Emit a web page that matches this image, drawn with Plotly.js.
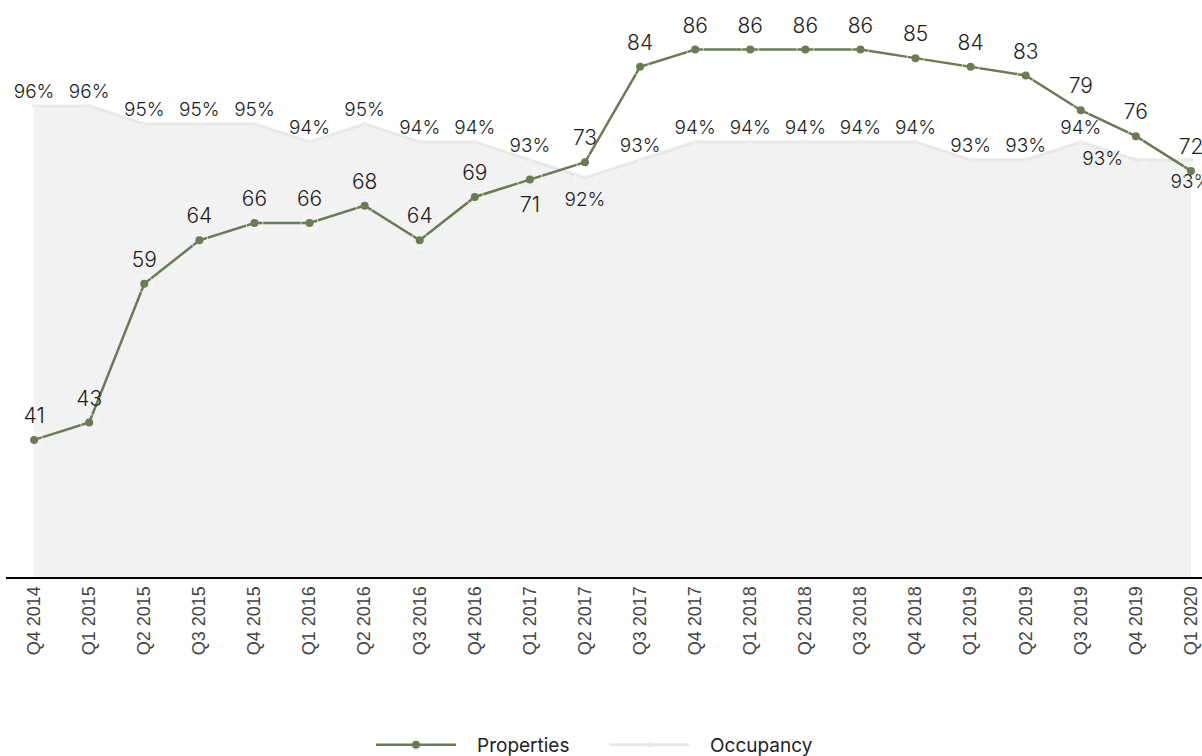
<!DOCTYPE html>
<html>
<head>
<meta charset="utf-8">
<script src="https://cdn.plot.ly/plotly-3.0.1.min.js"></script>
<style>
  html, body { margin: 0; padding: 0; overflow: hidden; background: #ffffff; }
  #chart { width: 1202px; height: 756px; }
</style>
</head>
<body>
<div id="chart"></div>
<script>
// Quarterly portfolio: number of properties and occupancy rate
const quarters = [
  'Q4 2014', 'Q1 2015', 'Q2 2015', 'Q3 2015', 'Q4 2015', 'Q1 2016', 'Q2 2016',
  'Q3 2016', 'Q4 2016', 'Q1 2017', 'Q2 2017', 'Q3 2017', 'Q4 2017', 'Q1 2018',
  'Q2 2018', 'Q3 2018', 'Q4 2018', 'Q1 2019', 'Q2 2019', 'Q3 2019', 'Q4 2019',
  'Q1 2020'
];
const properties = [41, 43, 59, 64, 66, 66, 68, 64, 69, 71, 73, 84, 86, 86, 86, 86, 85, 84, 83, 79, 76, 72];
const occupancy = [96, 96, 95, 95, 95, 94, 95, 94, 94, 93, 92, 93, 94, 94, 94, 94, 94, 93, 93, 94, 93, 93];

const GREEN = '#6a7b56';
const GREY_LINE = '#e8e8e8';
const LABEL_FONT = 'Inter, Lato, sans-serif';

// Label placement: most labels sit above their point, a few go below or to the side
const propLabelPos = quarters.map((q, i) => i === 9 ? 'bottom center' : 'top center');
const propLabelGap = propLabelPos.map(p => p.startsWith('bottom') ? 25 : 17);

const occLabelPos = quarters.map((q, i) => {
  if (i === 10 || i === 21) return 'bottom center';
  if (i === 20) return 'middle left';
  return 'top center';
});
const occLabelGap = occLabelPos.map(p => p.startsWith('bottom') ? 21 : (p.startsWith('middle') ? 19 : 4));

const traces = [
  // occupancy shaded area
  {
    x: quarters, y: occupancy, yaxis: 'y',
    type: 'scatter', mode: 'lines',
    line: { width: 0, color: 'rgba(0,0,0,0)' },
    fill: 'tozeroy', fillcolor: 'rgba(211,211,211,0.3)',
    showlegend: false, hoverinfo: 'skip'
  },
  // occupancy line
  {
    name: '\u00a0\u00a0\u00a0Occupancy', legendrank: 2,
    x: quarters, y: occupancy, yaxis: 'y',
    type: 'scatter', mode: 'lines+markers',
    line: { width: 3, color: GREY_LINE },
    marker: { size: 5, color: GREY_LINE },
    hovertemplate: '%{x}: %{y}%<extra></extra>'
  },
  // occupancy value labels
  {
    x: quarters, y: occupancy, yaxis: 'y',
    type: 'scatter', mode: 'markers+text',
    text: occupancy.map(v => v + '%'),
    textposition: occLabelPos,
    textfont: { family: LABEL_FONT, size: 19, color: '#1e1e1e', weight: 300 },
    marker: { size: occLabelGap, color: 'rgba(0,0,0,0)' },
    cliponaxis: false, showlegend: false, hoverinfo: 'skip'
  },
  // properties line
  {
    name: '\u00a0\u00a0\u00a0Properties', legendrank: 1,
    x: quarters, y: properties, yaxis: 'y2',
    type: 'scatter', mode: 'lines+markers',
    line: { width: 2.5, color: GREEN },
    marker: { size: 8, color: GREEN },
    hovertemplate: '%{x}: %{y}<extra></extra>'
  },
  // properties value labels
  {
    x: quarters, y: properties, yaxis: 'y2',
    type: 'scatter', mode: 'markers+text',
    text: properties.map(String),
    textposition: propLabelPos,
    textfont: { family: LABEL_FONT, size: 21, color: '#1e1e1e', weight: 300 },
    marker: { size: propLabelGap, color: 'rgba(0,0,0,0)' },
    cliponaxis: false, showlegend: false, hoverinfo: 'skip'
  }
];

const layout = {
  width: 1202, height: 756,
  margin: { l: 6, r: 0, t: 0, b: 179, pad: 0, autoexpand: false },
  paper_bgcolor: '#ffffff', plot_bgcolor: '#ffffff',
  showlegend: true,
  legend: {
    orientation: 'h', x: 0.5, xanchor: 'center', y: -0.291, yanchor: 'middle',
    font: { family: 'Inter, Roboto, sans-serif', size: 19, color: '#222222' },
    itemwidth: 80, entrywidth: 138, entrywidthmode: 'pixels'
  },
  xaxis: {
    type: 'category', range: [-0.51, 21.2],
    showline: true, linecolor: '#000000', linewidth: 2, layer: 'below traces',
    showgrid: false, zeroline: false, ticks: '',
    tickangle: -90, automargin: false,
    tickfont: { family: '"Liberation Sans", Arial, sans-serif', size: 18, color: '#444444' },
    fixedrange: true
  },
  yaxis: { range: [69.8, 101.9], visible: false, fixedrange: true },
  yaxis2: { range: [25.2, 91.7], overlaying: 'y', visible: false, fixedrange: true }
};

Plotly.newPlot('chart', traces, layout, { displayModeBar: false });
</script>
</body>
</html>
